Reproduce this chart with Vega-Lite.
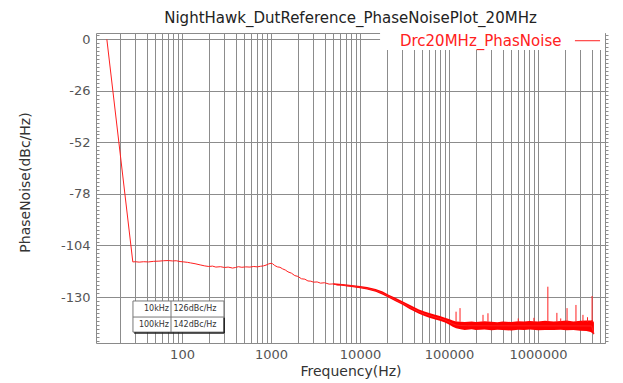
{
  "$schema": "https://vega.github.io/schema/vega-lite/v6.json",
  "width": 509,
  "height": 310,
  "autosize": {"type": "none"},
  "padding": {"left": 96, "top": 33, "right": 18, "bottom": 40},
  "background": "white",
  "config": {
    "font": "DejaVu Sans",
    "view": {"stroke": "#8a8a8a", "strokeWidth": 1}
  },
  "title": {"text": "NightHawk_DutReference_PhaseNoisePlot_20MHz", "fontSize": 15, "fontWeight": "normal", "color": "#222", "offset": 7, "font": "DejaVu Sans"},
  "datasets": {
    "trace": [
      {"f": 14.3, "pn": 0}, {"f": 28, "pn": -112.3}, {"f": 30, "pn": -112.2}, {"f": 33, "pn": -112.4}, {"f": 37, "pn": -112.2},
      {"f": 42, "pn": -112.3}, {"f": 48, "pn": -112.0}, {"f": 55, "pn": -111.9}, {"f": 62, "pn": -111.7}, {"f": 70, "pn": -111.6},
      {"f": 78, "pn": -111.8}, {"f": 86, "pn": -111.7}, {"f": 95, "pn": -112.1}, {"f": 105, "pn": -112.3}, {"f": 115, "pn": -112.5},
      {"f": 125, "pn": -112.8}, {"f": 140, "pn": -113.2}, {"f": 160, "pn": -113.8}, {"f": 180, "pn": -114.3}, {"f": 200, "pn": -114.6},
      {"f": 220, "pn": -114.4}, {"f": 240, "pn": -114.9}, {"f": 270, "pn": -114.7}, {"f": 300, "pn": -115.1}, {"f": 330, "pn": -114.9},
      {"f": 370, "pn": -115.4}, {"f": 400, "pn": -115.1}, {"f": 430, "pn": -114.7}, {"f": 470, "pn": -115.0}, {"f": 520, "pn": -114.8},
      {"f": 580, "pn": -114.9}, {"f": 640, "pn": -114.6}, {"f": 700, "pn": -114.8}, {"f": 760, "pn": -114.5}, {"f": 820, "pn": -114.3},
      {"f": 880, "pn": -113.9}, {"f": 940, "pn": -113.3}, {"f": 1000, "pn": -113.0}, {"f": 1040, "pn": -113.2}, {"f": 1100, "pn": -114.1},
      {"f": 1180, "pn": -114.8}, {"f": 1260, "pn": -115.0}, {"f": 1350, "pn": -115.8}, {"f": 1450, "pn": -116.4}, {"f": 1550, "pn": -117.3},
      {"f": 1700, "pn": -118.0}, {"f": 1850, "pn": -119.2}, {"f": 2000, "pn": -119.6}, {"f": 2200, "pn": -120.8}, {"f": 2400, "pn": -121.0},
      {"f": 2600, "pn": -121.9}, {"f": 2800, "pn": -122.0}, {"f": 3000, "pn": -122.5}, {"f": 3300, "pn": -122.4}, {"f": 3600, "pn": -123.0},
      {"f": 4000, "pn": -122.8}, {"f": 4500, "pn": -123.5}, {"f": 5000, "pn": -123.4}, {"f": 5600, "pn": -124.0}, {"f": 6300, "pn": -123.8},
      {"f": 7000, "pn": -124.3}, {"f": 8000, "pn": -124.4}, {"f": 9000, "pn": -124.8}, {"f": 10000, "pn": -125.0}, {"f": 11500, "pn": -125.5},
      {"f": 13000, "pn": -126.0}, {"f": 15000, "pn": -126.7}, {"f": 17000, "pn": -127.6}, {"f": 19000, "pn": -128.6}, {"f": 21000, "pn": -129.6},
      {"f": 24000, "pn": -130.9}, {"f": 27000, "pn": -132.2}, {"f": 30000, "pn": -133.0}, {"f": 34000, "pn": -134.4}, {"f": 39000, "pn": -135.8},
      {"f": 46000, "pn": -137.4}, {"f": 53000, "pn": -138.5}, {"f": 60000, "pn": -139.3}, {"f": 70000, "pn": -140.2}, {"f": 79000, "pn": -140.8},
      {"f": 90000, "pn": -141.6}, {"f": 100000, "pn": -142.6}, {"f": 110000, "pn": -143.5}, {"f": 120000, "pn": -144.1}, {"f": 135000, "pn": -144.4},
      {"f": 160000, "pn": -144.5}, {"f": 4000000, "pn": -144.6}, {"f": 4150000, "pn": -147.0}, {"f": 4260000, "pn": -148.5}
    ],
    "band": [
      {"f": 5000, "lo": -123.8, "hi": -123.0}, {"f": 6300, "lo": -124.3, "hi": -123.4},
      {"f": 8000, "lo": -124.9, "hi": -123.9}, {"f": 10000, "lo": -125.6, "hi": -124.4},
      {"f": 12000, "lo": -126.2, "hi": -124.9}, {"f": 15000, "lo": -127.4, "hi": -126.0}, {"f": 18000, "lo": -128.8, "hi": -127.2},
      {"f": 21000, "lo": -130.4, "hi": -128.8}, {"f": 25000, "lo": -132.1, "hi": -130.4}, {"f": 30000, "lo": -133.9, "hi": -132.1},
      {"f": 36000, "lo": -136.0, "hi": -133.9}, {"f": 46000, "lo": -138.5, "hi": -136.3}, {"f": 53000, "lo": -139.6, "hi": -137.3},
      {"f": 60000, "lo": -140.5, "hi": -138.1}, {"f": 70000, "lo": -141.4, "hi": -139.0}, {"f": 79000, "lo": -142.0, "hi": -139.6},
      {"f": 90000, "lo": -142.9, "hi": -140.4}, {"f": 100000, "lo": -143.9, "hi": -141.1}, {"f": 110000, "lo": -145.0, "hi": -141.8},
      {"f": 120000, "lo": -145.8, "hi": -142.3}, {"f": 135000, "lo": -146.3, "hi": -142.5}, {"f": 150000, "lo": -146.6, "hi": -142.6},
      {"f": 180000, "lo": -146.3, "hi": -142.3}, {"f": 200000, "lo": -146.7, "hi": -142.6}, {"f": 250000, "lo": -146.4, "hi": -142.2},
      {"f": 300000, "lo": -146.8, "hi": -142.5}, {"f": 350000, "lo": -146.5, "hi": -142.7}, {"f": 400000, "lo": -146.6, "hi": -142.3},
      {"f": 500000, "lo": -146.9, "hi": -142.6}, {"f": 600000, "lo": -146.5, "hi": -142.2}, {"f": 700000, "lo": -146.7, "hi": -142.4},
      {"f": 800000, "lo": -146.4, "hi": -142.1}, {"f": 1000000, "lo": -146.8, "hi": -142.3}, {"f": 1200000, "lo": -146.6, "hi": -142.0},
      {"f": 1500000, "lo": -146.7, "hi": -142.4}, {"f": 1800000, "lo": -146.5, "hi": -142.1}, {"f": 2100000, "lo": -146.8, "hi": -141.9},
      {"f": 2500000, "lo": -146.6, "hi": -142.3}, {"f": 3000000, "lo": -147.0, "hi": -142.0}, {"f": 3500000, "lo": -147.1, "hi": -141.8},
      {"f": 3900000, "lo": -147.6, "hi": -141.8}, {"f": 4100000, "lo": -148.3, "hi": -141.6}, {"f": 4250000, "lo": -149.1, "hi": -142.8}
    ],
    "spikes": [
      {"f": 120000, "top": -137.4}, {"f": 133000, "top": -135.6}, {"f": 241000, "top": -139.0}, {"f": 274000, "top": -138.2},
      {"f": 600000, "top": -140.8}, {"f": 900000, "top": -140.5}, {"f": 1290000, "top": -124.8}, {"f": 1630000, "top": -138.0},
      {"f": 1800000, "top": -140.8}, {"f": 2120000, "top": -135.6}, {"f": 2670000, "top": -134.0}, {"f": 3200000, "top": -139.0},
      {"f": 3600000, "top": -140.2}, {"f": 4050000, "top": -129.5}
    ],
    "table": [
      {"offset": "10kHz", "noise": "126dBc/Hz"},
      {"offset": "100kHz", "noise": "142dBc/Hz"}
    ],
    "legend": [
      {"series": "Drc20MHz_PhasNoise"}
    ]
  },
  "resolve": {"axis": {"y": "independent"}},
  "layer": [
    {
      "data": {"name": "band"},
      "mark": {"type": "area", "color": "#ff0000", "opacity": 1},
      "encoding": {
        "x": {"field": "f", "type": "quantitative",
          "scale": {"type": "log", "domain": [10.8, 5660000], "nice": false},
          "axis": {
            "values": [20,30,40,50,60,70,80,90,100,200,300,400,500,600,700,800,900,1000,2000,3000,4000,5000,6000,7000,8000,9000,10000,20000,30000,40000,50000,60000,70000,80000,90000,100000,200000,300000,400000,500000,600000,700000,800000,900000,1000000,2000000,3000000,4000000,5000000],
            "labelExpr": "indexof([100,1000,10000,100000,1000000], datum.value) >= 0 ? format(datum.value, 'd') : ''",
            "grid": true, "gridColor": "#8c8c8c", "gridOpacity": 1, "ticks": false, "domain": false,
            "labelFontSize": 13, "labelColor": "#555", "labelPadding": 5, "labelOverlap": false, "labelFlush": false,
            "title": "Frequency(Hz)", "titleFontSize": 14, "titleColor": "#333", "titleFontWeight": "normal", "titlePadding": 3
          }},
        "y": {"field": "hi", "type": "quantitative",
          "scale": {"domain": [-153.2, 3.2], "nice": false, "zero": false},
          "axis": {
            "orient": "left",
            "values": [0, -26, -52, -78, -104, -130],
            "labelExpr": "'' + datum.value",
            "grid": true, "gridColor": "#8c8c8c", "gridOpacity": 1, "ticks": false, "domain": false,
            "labelFontSize": 13, "labelColor": "#555", "labelPadding": 6,
            "title": "PhaseNoise(dBc/Hz)", "titleFontSize": 14, "titleColor": "#333", "titleFontWeight": "normal",
            "titleX": -71, "titleY": 149, "titleBaseline": "middle", "titleAlign": "center", "titleAngle": 270
          }},
        "y2": {"field": "lo"}
      }
    },
    {
      "data": {"name": "trace"},
      "mark": {"type": "line", "color": "#ff2020", "strokeWidth": 1},
      "encoding": {
        "x": {"field": "f", "type": "quantitative", "scale": {"type": "log", "domain": [10.8, 5660000], "nice": false}},
        "y": {"field": "pn", "type": "quantitative",
          "scale": {"domain": [-153.2, 3.2], "nice": false, "zero": false},
          "axis": {
            "orient": "left",
            "values": [-152,-150,-148,-146,-144,-142,-140,-138,-136,-134,-132,-130,-128,-126,-124,-122,-120,-118,-116,-114,-112,-110,-108,-106,-104,-102,-100,-98,-96,-94,-92,-90,-88,-86,-84,-82,-80,-78,-76,-74,-72,-70,-68,-66,-64,-62,-60,-58,-56,-54,-52,-50,-48,-46,-44,-42,-40,-38,-36,-34,-32,-30,-28,-26,-24,-22,-20,-18,-16,-14,-12,-10,-8,-6,-4,-2,0,2],
            "labels": false, "grid": false, "domain": false, "ticks": true, "tickSize": -3, "tickColor": "#8c8c8c", "title": null
          }}
      }
    },
    {
      "data": {"name": "spikes"},
      "mark": {"type": "rule", "color": "#ff2020", "strokeWidth": 1},
      "encoding": {
        "x": {"field": "f", "type": "quantitative", "scale": {"type": "log", "domain": [10.8, 5660000], "nice": false}},
        "y": {"field": "top", "type": "quantitative",
          "scale": {"domain": [-153.2, 3.2], "nice": false, "zero": false},
          "axis": {
            "orient": "right",
            "values": [-152,-150,-148,-146,-144,-142,-140,-138,-136,-134,-132,-130,-128,-126,-124,-122,-120,-118,-116,-114,-112,-110,-108,-106,-104,-102,-100,-98,-96,-94,-92,-90,-88,-86,-84,-82,-80,-78,-76,-74,-72,-70,-68,-66,-64,-62,-60,-58,-56,-54,-52,-50,-48,-46,-44,-42,-40,-38,-36,-34,-32,-30,-28,-26,-24,-22,-20,-18,-16,-14,-12,-10,-8,-6,-4,-2,0,2],
            "labels": false, "grid": false, "domain": true, "domainColor": "#8c8c8c", "domainWidth": 1, "ticks": true, "tickSize": 3, "tickColor": "#8c8c8c", "title": null, "offset": 0
          }},
        "y2": {"datum": -142.5}
      }
    },
    {
      "data": {"name": "table"},
      "layer": [
        {
          "transform": [{"filter": "datum.offset == '10kHz'"}],
          "mark": {"type": "rect", "fill": "white", "stroke": "#777", "strokeWidth": 1},
          "encoding": {
            "x": {"datum": 28.1, "type": "quantitative"}, "x2": {"datum": 296},
            "y": {"datum": -132.0, "type": "quantitative", "axis": null}, "y2": {"datum": -147.7}
          }
        },
        {
          "transform": [{"filter": "datum.offset == '10kHz'"}],
          "mark": {"type": "rule", "stroke": "#777", "strokeWidth": 1},
          "encoding": {
            "x": {"datum": 28.1, "type": "quantitative"}, "x2": {"datum": 296},
            "y": {"datum": -140.1, "type": "quantitative", "axis": null}
          }
        },
        {
          "transform": [{"filter": "datum.offset == '10kHz'"}],
          "mark": {"type": "rule", "stroke": "#777", "strokeWidth": 1},
          "encoding": {
            "x": {"datum": 75.2, "type": "quantitative"},
            "y": {"datum": -132.0, "type": "quantitative", "axis": null}, "y2": {"datum": -147.7}
          }
        },
        {
          "transform": [{"filter": "datum.offset == '10kHz'"}],
          "mark": {"type": "rule", "stroke": "#222", "strokeWidth": 1.5},
          "encoding": {
            "x": {"datum": 29, "type": "quantitative"}, "x2": {"datum": 298},
            "y": {"datum": -148.2, "type": "quantitative", "axis": null}
          }
        },
        {
          "transform": [{"filter": "datum.offset == '10kHz'"}],
          "mark": {"type": "rule", "stroke": "#222", "strokeWidth": 1.5},
          "encoding": {
            "x": {"datum": 298, "type": "quantitative"},
            "y": {"datum": -140.5, "type": "quantitative", "axis": null}, "y2": {"datum": -148.2}
          }
        },
        {
          "transform": [{"filter": "datum.offset == '10kHz'"}],
          "layer": [
            {"mark": {"type": "text", "align": "right", "baseline": "middle", "fontSize": 8, "color": "#333"},
             "encoding": {"x": {"datum": 71.4, "type": "quantitative"}, "y": {"datum": -136.1, "type": "quantitative", "axis": null}, "text": {"field": "offset"}}},
            {"mark": {"type": "text", "align": "left", "baseline": "middle", "fontSize": 8, "color": "#333"},
             "encoding": {"x": {"datum": 80, "type": "quantitative"}, "y": {"datum": -136.1, "type": "quantitative", "axis": null}, "text": {"field": "noise"}}}
          ]
        },
        {
          "transform": [{"filter": "datum.offset == '100kHz'"}],
          "layer": [
            {"mark": {"type": "text", "align": "right", "baseline": "middle", "fontSize": 8, "color": "#333"},
             "encoding": {"x": {"datum": 71.4, "type": "quantitative"}, "y": {"datum": -143.9, "type": "quantitative", "axis": null}, "text": {"field": "offset"}}},
            {"mark": {"type": "text", "align": "left", "baseline": "middle", "fontSize": 8, "color": "#333"},
             "encoding": {"x": {"datum": 80, "type": "quantitative"}, "y": {"datum": -143.9, "type": "quantitative", "axis": null}, "text": {"field": "noise"}}}
          ]
        }
      ]
    },
    {
      "data": {"name": "legend"},
      "layer": [
        {
          "mark": {"type": "rect", "fill": "white", "stroke": null},
          "encoding": {
            "x": {"datum": 16800, "type": "quantitative"}, "x2": {"datum": 5660000},
            "y": {"datum": 3.2, "type": "quantitative", "axis": null}, "y2": {"datum": -5.4}
          }
        },
        {
          "mark": {"type": "text", "align": "left", "baseline": "middle", "fontSize": 15, "color": "#ff2020"},
          "encoding": {
            "x": {"datum": 28100, "type": "quantitative"},
            "y": {"datum": -0.7, "type": "quantitative", "axis": null},
            "text": {"field": "series"}
          }
        },
        {
          "mark": {"type": "rule", "color": "#ff2020", "strokeWidth": 1},
          "encoding": {
            "x": {"datum": 2600000, "type": "quantitative"}, "x2": {"datum": 4980000},
            "y": {"datum": -0.7, "type": "quantitative", "axis": null}
          }
        }
      ]
    }
  ]
}
